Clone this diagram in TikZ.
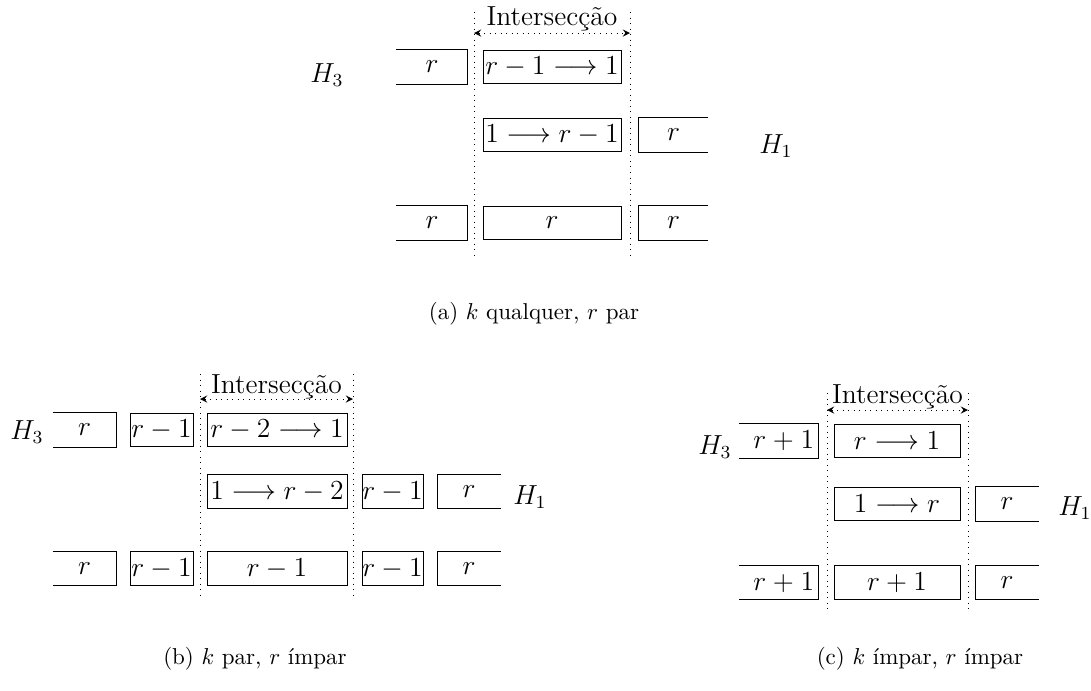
\documentclass[tikz,border=0pt]{standalone}
\usepackage{amsmath,amssymb}
\usepackage{tikz}

\begin{document}
\begin{tikzpicture}[x=0.435pt, y=-0.435pt, >=stealth,
  every node/.style={font=\large},
  blk/.style={draw, rectangle, inner sep=0pt, minimum height=14.6pt},
  opn/.style={rectangle, inner sep=0pt, minimum height=14.6pt},
  rgt/.style={text width=31pt, align=right, inner xsep=1.5pt},
  captxt/.style={font=\normalsize},
  guide/.style={dotted},
  spanarr/.style={<->, dotted}]
\useasboundingbox (0,0) rectangle (1091,690);

% (a) k qualquer, r par
\node[opn, minimum width=30.5pt] (a1l) at (432,67) {$r$};
\node[blk, minimum width=60pt] (a1m) at (552,67) {$r-1 \longrightarrow 1$};
\node[blk, minimum width=60pt] (a2m) at (552,135) {$1 \longrightarrow r-1$};
\node[opn, minimum width=30pt] (a2r) at (673.5,135) {$r$};
\node[opn, minimum width=30.5pt] (a3l) at (432,223) {$r$};
\node[blk, minimum width=60pt] (a3m) at (552,223) {$r$};
\node[opn, minimum width=30pt] (a3r) at (673.5,223) {$r$};
\draw (a1l.north west) -- (a1l.north east) -- (a1l.south east) -- (a1l.south west);
\draw (a3l.north west) -- (a3l.north east) -- (a3l.south east) -- (a3l.south west);
\draw (a2r.north east) -- (a2r.north west) -- (a2r.south west) -- (a2r.south east);
\draw (a3r.north east) -- (a3r.north west) -- (a3r.south west) -- (a3r.south east);
\coordinate (aLt) at (474,12);
\coordinate (aLb) at (474,258);
\coordinate (aRt) at (630,12);
\coordinate (aRb) at (630,258);
\draw[guide] (aLt) -- (aLb);
\draw[guide] (aRt) -- (aRb);
\coordinate (aAl) at (474,33);
\coordinate (aAr) at (630,33);
\draw[spanarr] (aAl) -- (aAr);
\node[anchor=base] (aint) at (552,25) {Intersecção};
\node (aH3) at (327,75) {$H_3$};
\node (aH1) at (776,146) {$H_1$};
\node[captxt] (acap) at (534,314) {(a) $k$ qualquer, $r$ par};

% (b) k par, r impar
\node[opn, minimum width=27.4pt] (b1l) at (84.5,430) {$r$};
\node[blk, minimum width=27.4pt] (b1c) at (161.5,430) {$r-1$};
\node[blk, minimum width=60.9pt] (b1m) at (277,430) {$r-2 \longrightarrow 1$};
\node[blk, minimum width=60.9pt] (b2m) at (277,491.5) {$1 \longrightarrow r-2$};
\node[blk, minimum width=26.5pt] (b2c) at (392.5,491.5) {$r-1$};
\node[opn, minimum width=27pt] (b2r) at (469,491.5) {$r$};
\node[opn, minimum width=27.4pt] (b3l) at (84.5,568.5) {$r$};
\node[blk, minimum width=27.4pt] (b3c) at (161.5,568.5) {$r-1$};
\node[blk, minimum width=60.9pt] (b3m) at (277,568.5) {$r-1$};
\node[blk, minimum width=26.5pt] (b3d) at (392.5,568.5) {$r-1$};
\node[opn, minimum width=27pt] (b3r) at (469,568.5) {$r$};
\draw (b1l.north west) -- (b1l.north east) -- (b1l.south east) -- (b1l.south west);
\draw (b3l.north west) -- (b3l.north east) -- (b3l.south east) -- (b3l.south west);
\draw (b2r.north east) -- (b2r.north west) -- (b2r.south west) -- (b2r.south east);
\draw (b3r.north east) -- (b3r.north west) -- (b3r.south west) -- (b3r.south east);
\coordinate (bLt) at (200,374);
\coordinate (bLb) at (200,598);
\coordinate (bRt) at (353,374);
\coordinate (bRb) at (353,598);
\draw[guide] (bLt) -- (bLb);
\draw[guide] (bRt) -- (bRb);
\coordinate (bAl) at (200,399);
\coordinate (bAr) at (353,399);
\draw[spanarr] (bAl) -- (bAr);
\node[anchor=base] (bint) at (276.5,393) {Intersecção};
\node (bH3) at (27,432) {$H_3$};
\node (bH1) at (530,497) {$H_1$};
\node[captxt] (bcap) at (255,659) {(b) $k$ par, $r$ ímpar};

% (c) k impar, r impar
\node[opn, rgt, minimum width=34.4pt] (c1l) at (778.5,441) {$r+1$};
\node[blk, minimum width=54.8pt] (c1m) at (897,441) {$r \longrightarrow 1$};
\node[blk, minimum width=54.8pt] (c2m) at (897,504) {$1 \longrightarrow r$};
\node[opn, minimum width=27pt] (c2r) at (1007,504) {$r$};
\node[opn, rgt, minimum width=34.4pt] (c3l) at (778.5,582.5) {$r+1$};
\node[blk, minimum width=54.8pt] (c3m) at (897,582.5) {$r+1$};
\node[opn, minimum width=27pt] (c3r) at (1007,582.5) {$r$};
\draw (c1l.north west) -- (c1l.north east) -- (c1l.south east) -- (c1l.south west);
\draw (c3l.north west) -- (c3l.north east) -- (c3l.south east) -- (c3l.south west);
\draw (c2r.north east) -- (c2r.north west) -- (c2r.south west) -- (c2r.south east);
\draw (c3r.north east) -- (c3r.north west) -- (c3r.south west) -- (c3r.south east);
\coordinate (cLt) at (827,393);
\coordinate (cLb) at (827,612);
\coordinate (cRt) at (968,393);
\coordinate (cRb) at (968,612);
\draw[guide] (cLt) -- (cLb);
\draw[guide] (cRt) -- (cRb);
\coordinate (cAl) at (827,410);
\coordinate (cAr) at (968,410);
\draw[spanarr] (cAl) -- (cAr);
\node[anchor=base] (cint) at (897.5,403) {Intersecção};
\node (cH3) at (715,447) {$H_3$};
\node (cH1) at (1075,508) {$H_1$};
\node[captxt] (ccap) at (920,659) {(c) $k$ ímpar, $r$ ímpar};
\end{tikzpicture}
\end{document}
